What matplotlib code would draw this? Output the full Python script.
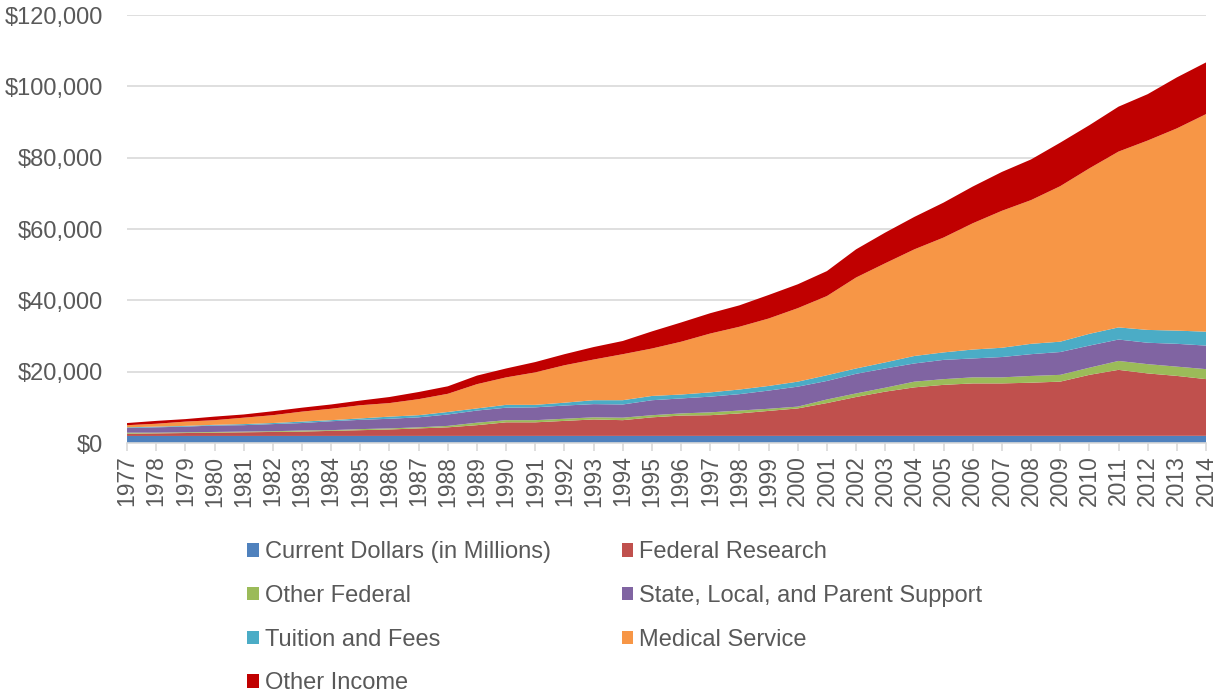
import numpy as np
import matplotlib.pyplot as plt
from matplotlib.patches import Patch
from matplotlib.ticker import FuncFormatter

plt.rcParams['font.family'] = ['Liberation Sans', 'DejaVu Sans']

# revenue sources, $ millions
years = list(range(1977, 2015))
current_dollars = years  # year column ended up plotted as its own series
federal_research = [620, 720, 820, 920, 1020, 1120, 1220, 1420, 1610, 1810,
                    2110, 2410, 3010, 3810, 3810, 4210, 4610, 4410, 5200, 5700,
                    5800, 6300, 7000, 7700, 9200, 10900, 12400, 13600, 14300, 14700,
                    14700, 14900, 15200, 17100, 18500, 17500, 16800, 15900]
other_federal = [300, 200, 200, 200, 200, 200, 300, 200, 300, 300,
                 300, 400, 700, 600, 600, 600, 600, 700, 600, 600,
                 800, 800, 600, 500, 1000, 1000, 1100, 1600, 1600, 1700,
                 1700, 1900, 1900, 2000, 2500, 2600, 2600, 2800]
state_local_parent = [1300, 1500, 1600, 1800, 1800, 2000, 2100, 2500, 2600, 2700,
                      2800, 3200, 3400, 3500, 3600, 3700, 3700, 3700, 4200, 4200,
                      4400, 4600, 5100, 5600, 5200, 5500, 5400, 5100, 5400, 5300,
                      5700, 6100, 6400, 6200, 6000, 6000, 6400, 6600]
tuition_fees = [200, 200, 200, 200, 300, 300, 400, 300, 400, 600,
                600, 700, 600, 800, 700, 800, 1100, 1200, 1200, 1100,
                1200, 1300, 1300, 1400, 1600, 1500, 1700, 2100, 2100, 2500,
                2600, 2900, 2900, 3300, 3400, 3600, 3700, 3900]
medical_service = [600, 800, 1200, 1300, 1800, 2200, 2800, 3200, 3700, 3800,
                   4500, 5100, 6800, 7700, 9100, 10500, 11400, 12900, 13300, 14800,
                   16500, 17600, 18900, 20600, 22200, 25500, 27800, 29900, 32200, 35400,
                   38400, 40300, 43600, 46400, 49300, 53100, 56700, 61000]
other_income = [600, 800, 700, 1000, 900, 1100, 1100, 1200, 1300, 1700,
                2000, 2100, 2400, 2500, 2900, 3100, 3500, 3700, 4800, 5400,
                5700, 6000, 6600, 6700, 7000, 7900, 8600, 9100, 9800, 10300,
                10900, 11400, 12200, 12100, 12600, 13000, 14300, 14500]

labels = ['Current Dollars (in Millions)', 'Federal Research', 'Other Federal',
          'State, Local, and Parent Support', 'Tuition and Fees', 'Medical Service',
          'Other Income']
colors = ['#4F81BD', '#C0504D', '#9BBB59', '#8064A2', '#4BACC6', '#F79646', '#C00000']

fig = plt.figure(figsize=(12.25, 6.96), dpi=100)
ax = fig.add_axes([0.1037, 0.3635, 0.8808, 0.6149])

ax.stackplot(years, current_dollars, federal_research, other_federal,
             state_local_parent, tuition_fees, medical_service, other_income,
             colors=colors, linewidth=0, zorder=2)

ax.set_xlim(1977, 2014)
ax.set_ylim(0, 120000)
ax.set_yticks(np.arange(0, 120001, 20000))
ax.yaxis.set_major_formatter(FuncFormatter(lambda v, p: '${:,.0f}'.format(v)))
ax.set_xticks(years)
ax.set_xticklabels([str(y) for y in years], rotation=90)

ax.grid(axis='y', color='#d9d9d9', linewidth=1.2, zorder=0)
ax.set_axisbelow(True)
for s in ['top', 'right', 'left']:
    ax.spines[s].set_visible(False)
ax.spines['bottom'].set_color('#d9d9d9')
ax.spines['bottom'].set_linewidth(1.2)
ax.spines['bottom'].set_zorder(3)

ax.tick_params(axis='y', length=0, labelsize=17, labelcolor='#595959', pad=17)
ax.tick_params(axis='x', length=6, width=1.2, color='#d9d9d9',
               labelsize=16.5, labelcolor='#595959', pad=3)

handles = [Patch(facecolor=c, label=l) for c, l in zip(colors, labels)]
order = [0, 2, 4, 6, 1, 3, 5]
fig.legend([handles[i] for i in order], [labels[i] for i in order],
           ncol=2, loc='upper left', bbox_to_anchor=(0.194, 0.236),
           frameon=False, fontsize=17, labelcolor='#595959',
           handlelength=0.5, handleheight=0.5, handletextpad=0.25,
           labelspacing=0.92, columnspacing=3.0, borderaxespad=0)

fig.savefig('out.png', dpi=100)
